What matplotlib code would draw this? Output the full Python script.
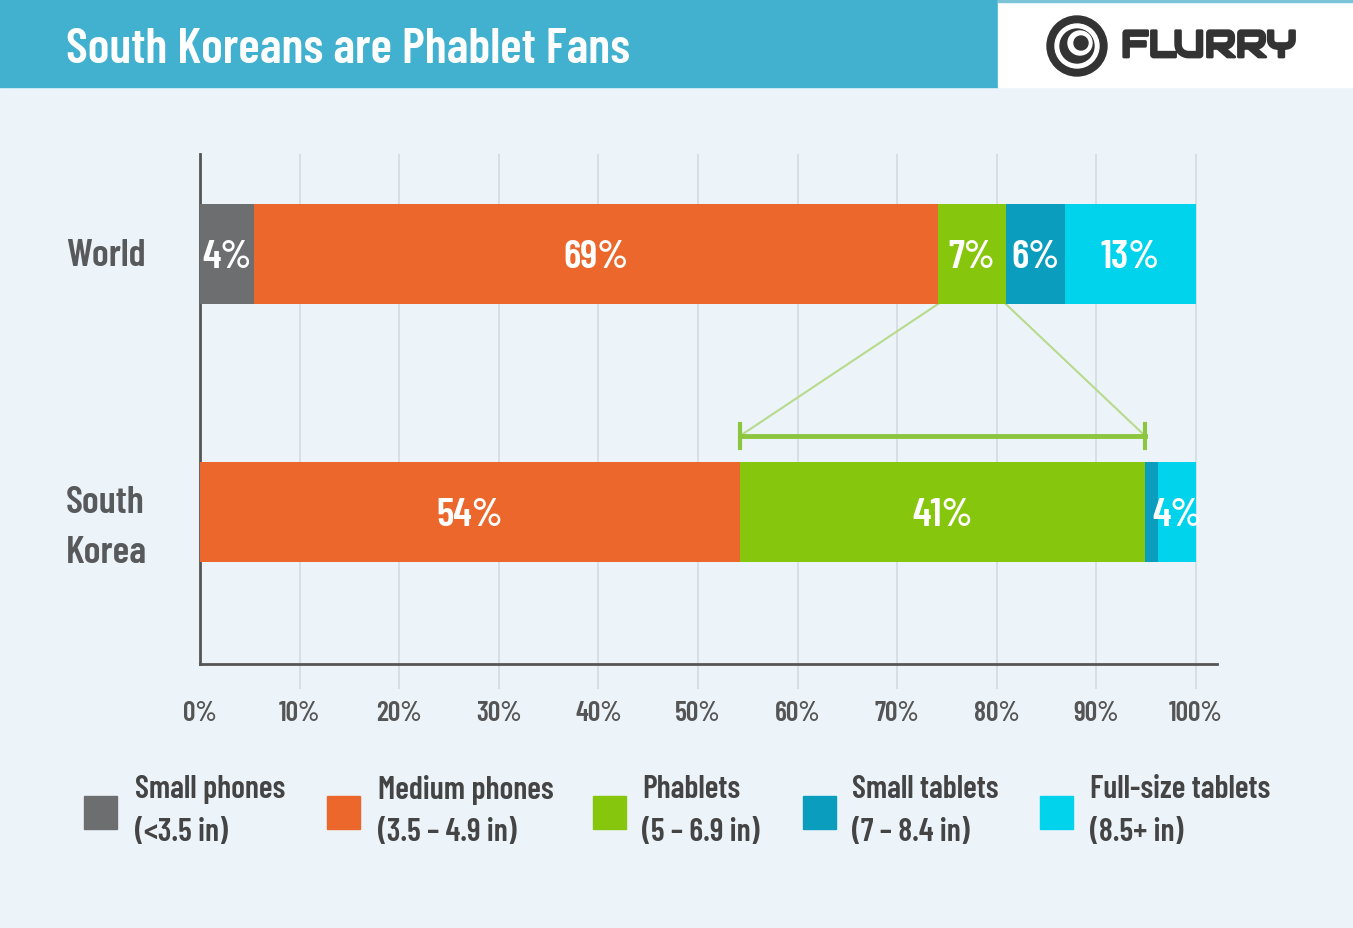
import matplotlib.pyplot as plt
import matplotlib.patches as mpatches
import matplotlib.patheffects as pe
import numpy as np

regions = ["World", "South\nKorea"]
segments = ["Small phones\n(<3.5 in)", "Medium phones\n(3.5 – 4.9 in)", "Phablets\n(5 – 6.9 in)",
            "Small tablets\n(7 – 8.4 in)", "Full-size tablets\n(8.5+ in)"]
colors = ["#6d6e70", "#ec672b", "#86c60c", "#0a9dbe", "#00d3eb"]
# bar widths as drawn (%), labels as printed
world = [5.4, 68.7, 6.8, 5.9, 13.2]
korea = [0.0, 54.2, 40.7, 1.3, 3.8]
world_lbl = ["4%", "69%", "7%", "6%", "13%"]
korea_lbl = ["", "54%", "41%", "", "4%"]
ticks = [0, 10, 20, 30, 40, 50, 60, 70, 80, 90, 100]

FONT = ["Barlow Condensed", "Roboto Condensed", "DejaVu Sans"]
plt.rcParams['font.family'] = FONT

W, H = 1353, 929
bg = "#ecf4fa"
fig = plt.figure(figsize=(W / 100, H / 100), dpi=100, facecolor=bg)


def fx(px):
    return px / W


def fy(py):
    return 1 - py / H


# header band
fig.patches.append(mpatches.Rectangle((0, fy(88)), fx(998), 88 / H,
                                      transform=fig.transFigure, color="#41b1cf", zorder=-2))
fig.patches.append(mpatches.Rectangle((fx(998), fy(88)), fx(355), 88 / H,
                                      transform=fig.transFigure, color="white", zorder=-2))
fig.patches.append(mpatches.Rectangle((fx(998), fy(3)), fx(355), 3 / H,
                                      transform=fig.transFigure, color="#7cc3d8", zorder=-1))
fig.text(fx(66), fy(50), "South Koreans are Phablet Fans", color="white",
         fontsize=36, fontweight="semibold", va="center", ha="left")

# logo
lax = fig.add_axes([fx(1042), fy(82), fx(70), 70 / H], zorder=5)
lax.set_xlim(-35, 35)
lax.set_ylim(-35, 35)
lax.patch.set_alpha(0)
lax.axis("off")
for r, c, dx, dy in [(30, "#333333", 0, 0), (22, "white", 0, 0), (17, "#333333", 0, 0),
                     (12, "white", 3, 3), (7, "#333333", 4, 3)]:
    lax.add_patch(mpatches.Ellipse((dx, dy), 2 * r, 2 * r, color=c))
fig.text(fx(1121), fy(47), "FLURRY", color="#333333", fontsize=27,
         va="center", ha="left", family=["Audiowide", "DejaVu Sans"],
         path_effects=[pe.withStroke(linewidth=2, foreground="#333333")])

# main axes
ax = fig.add_axes([fx(200), fy(665), fx(1017), 510 / H])
ax.set_facecolor(bg)
h = 100 / 258
ax.set_xlim(0, 1017 / 9.96)
ybot = 1 + 152 / 258
ax.set_ylim(ybot, -100 / 258)

ypos = np.arange(len(regions))
for row, (vals, lbls) in enumerate([(world, world_lbl), (korea, korea_lbl)]):
    left = 0
    for v, c, t in zip(vals, colors, lbls):
        if v > 0:
            ax.barh(ypos[row], v, left=left, height=h, color=c, zorder=3)
        if t:
            ax.text(left + v / 2, ypos[row] + 0.01, t, color="white", fontsize=29,
                    fontweight="semibold", ha="center", va="center", zorder=4)
        left += v

# gridlines running past the bottom spine
ax.vlines(ticks[1:], -100 / 258, ybot + 25 / 258, color="#d3dae0", lw=1.2,
          zorder=1, clip_on=False)

# zoom callout from world phablets to korea phablets
wl = sum(world[:2])
wr = sum(world[:3])
kl = sum(korea[:2])
kr = sum(korea[:3])
yb = 182 / 258
ax.plot([wl, kl], [h / 2, yb], color="#b7da8c", lw=1.5, zorder=2)
ax.plot([wr, kr], [h / 2, yb], color="#b7da8c", lw=1.5, zorder=2)
ax.plot([kl, kr], [yb, yb], color="#8cc63f", lw=3.5, zorder=2)
for xx in [kl, kr]:
    ax.plot([xx, xx], [yb - 12 / 258, yb + 12 / 258], color="#8cc63f", lw=3, zorder=2)

ax.set_xticks(ticks)
ax.set_xticklabels([f"{t}%" for t in ticks])
ax.tick_params(axis="x", length=0, pad=26, labelsize=20, labelcolor="#555555")
for lab in ax.get_xticklabels():
    lab.set_fontweight("semibold")
ax.set_yticks([])
for s in ["top", "right"]:
    ax.spines[s].set_visible(False)
for s in ["left", "bottom"]:
    ax.spines[s].set_color("#555555")
    ax.spines[s].set_linewidth(2)

for row, name in enumerate(regions):
    fig.text(fx(66), fy(256 + row * 272), name, color="#58595b",
             fontsize=28, fontweight="semibold", ha="left", va="center", linespacing=1.6)

# legend
sq_x = [84, 327, 593, 803, 1040]
tx_x = [135, 378, 642, 852, 1090]
for sx, tx, c, lab in zip(sq_x, tx_x, colors, segments):
    fig.patches.append(mpatches.Rectangle((fx(sx), fy(830)), fx(33), 33 / H,
                                          transform=fig.transFigure, color=c))
    fig.text(fx(tx), fy(811), lab, color="#444444", fontsize=23,
             fontweight="semibold", ha="left", va="center", linespacing=1.6)

fig.savefig("out.png", dpi=100, facecolor=bg)
